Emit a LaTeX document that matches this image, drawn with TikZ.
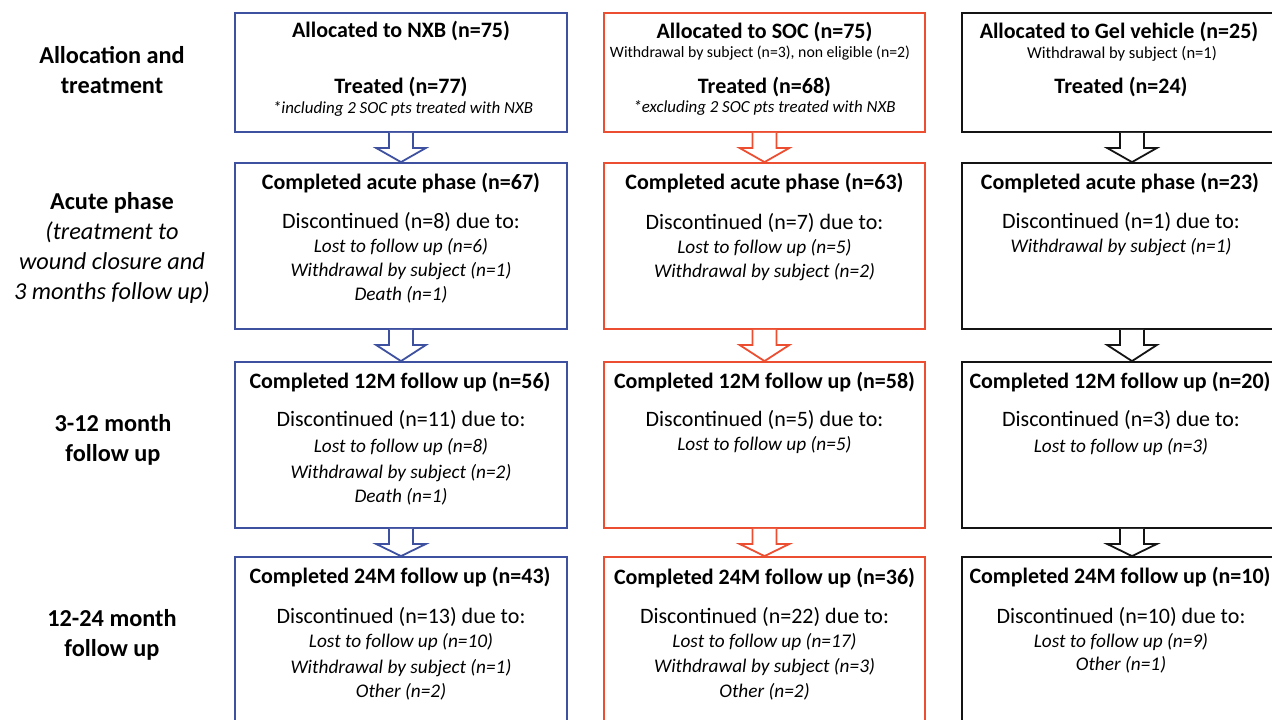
\documentclass[tikz,border=0pt]{standalone}
\usepackage{fontspec}
\setmainfont{Carlito}
\usetikzlibrary{calc}
\definecolor{nxbblue}{RGB}{62,80,160}
\definecolor{socred}{RGB}{236,78,50}
\definecolor{gelblack}{RGB}{20,20,20}
\tikzset{
  box/.style={draw=#1, line width=1.8pt, fill=white, inner sep=0pt},
  barrow/.style={draw=#1, line width=1.8pt, fill=white, line join=miter},
  ttl/.style={font=\fontsize{22}{26}\selectfont\bfseries, inner sep=0pt, text=black},
  txt/.style={font=\fontsize{22}{26}\selectfont, inner sep=0pt, text=black},
  itl/.style={font=\fontsize{19.3}{23}\selectfont\itshape, inner sep=0pt, text=black},
  sml/.style={font=\fontsize{15.8}{18}\selectfont, inner sep=0pt, text=black},
  smg/.style={font=\fontsize{16.6}{19}\selectfont, inner sep=0pt, text=black},
  smi/.style={font=\fontsize{16.9}{19}\selectfont\itshape, inner sep=0pt, text=black},
  lbl/.style={font=\fontsize{24.3}{30}\selectfont\bfseries, align=center, inner sep=0pt, text=black},
}
\newcommand\myblockarrow[3]{%
  \draw[barrow=#1] ($(#2.south)+(-12,0)$) -- ++(0,15) -- ++(-13,0) -- (#3.north)
    -- ($(#2.south)+(25,15)$) -- ++(-13,0) -- ($(#2.south)+(12,0)$);
}
\begin{document}
\begin{tikzpicture}[x=1pt,y=-1pt]
\useasboundingbox (0,0) rectangle (1272,720);
\clip (0,0) rectangle (1272,720);

% ---------- left labels ----------
\node[lbl] (L1) at (112,70) {Allocation and\\treatment};
\node[lbl] (L2) at (112,247.5) {Acute phase\\\mdseries\itshape (treatment to\\\mdseries\itshape wound closure and\\\mdseries\itshape 3 months follow up)};
\node[lbl] (L3) at (113,440) {3-12 month\\follow up};
\node[lbl] (L4) at (112,635) {12-24 month\\follow up};

% ---------- boxes ----------
\node[box=nxbblue, minimum width=332pt, minimum height=119pt] (n1) at (401,72.5) {};
\node[box=nxbblue, minimum width=332pt, minimum height=166pt] (n2) at (401,246) {};
\node[box=nxbblue, minimum width=332pt, minimum height=166pt] (n3) at (401,445) {};
\node[box=nxbblue, minimum width=332pt, minimum height=200pt] (n4) at (401,657) {};

\node[box=socred, minimum width=321pt, minimum height=119pt] (s1) at (764.5,72.5) {};
\node[box=socred, minimum width=321pt, minimum height=166pt] (s2) at (764.5,246) {};
\node[box=socred, minimum width=321pt, minimum height=166pt] (s3) at (764.5,445) {};
\node[box=socred, minimum width=321pt, minimum height=200pt] (s4) at (764.5,657) {};

\node[box=gelblack, minimum width=340pt, minimum height=119pt] (g1) at (1132,72.5) {};
\node[box=gelblack, minimum width=340pt, minimum height=166pt] (g2) at (1132,246) {};
\node[box=gelblack, minimum width=340pt, minimum height=166pt] (g3) at (1132,445) {};
\node[box=gelblack, minimum width=340pt, minimum height=200pt] (g4) at (1132,657) {};

% ---------- arrows ----------
\myblockarrow{nxbblue}{n1}{n2}
\myblockarrow{nxbblue}{n2}{n3}
\myblockarrow{nxbblue}{n3}{n4}
\myblockarrow{socred}{s1}{s2}
\myblockarrow{socred}{s2}{s3}
\myblockarrow{socred}{s3}{s4}
\myblockarrow{gelblack}{g1}{g2}
\myblockarrow{gelblack}{g2}{g3}
\myblockarrow{gelblack}{g3}{g4}

% ---------- NXB texts ----------
\node[ttl] (n1a) at (401,31) {Allocated to NXB (n=75)};
\node[ttl] (n1b) at (401,87) {Treated (n=77)};
\node[smi] (n1c) at (403,109) {*including 2 SOC pts treated with NXB};

\node[ttl] (n2a) at (401,183) {Completed acute phase (n=67)};
\node[txt] (n2b) at (401,222) {Discontinued (n=8) due to:};
\node[itl] (n2c) at (401,247) {Lost to follow up (n=6)};
\node[itl] (n2d) at (401,271) {Withdrawal by subject (n=1)};
\node[itl] (n2e) at (401,295) {Death (n=1)};

\node[ttl] (n3a) at (400,382) {Completed 12M follow up (n=56)};
\node[txt] (n3b) at (401,420) {Discontinued (n=11) due to:};
\node[itl] (n3c) at (401,447) {Lost to follow up (n=8)};
\node[itl] (n3d) at (401,473) {Withdrawal by subject (n=2)};
\node[itl] (n3e) at (401,497) {Death (n=1)};

\node[ttl] (n4a) at (400,577) {Completed 24M follow up (n=43)};
\node[txt] (n4b) at (401,617) {Discontinued (n=13) due to:};
\node[itl] (n4c) at (401,642) {Lost to follow up (n=10)};
\node[itl] (n4d) at (401,668) {Withdrawal by subject (n=1)};
\node[itl] (n4e) at (401,692) {Other (n=2)};

% ---------- SOC texts ----------
\node[ttl] (s1a) at (764.5,32) {Allocated to SOC (n=75)};
\node[sml] (s1b) at (760,53) {Withdrawal by subject (n=3), non eligible (n=2)};
\node[ttl] (s1c) at (764.5,87) {Treated (n=68)};
\node[smi] (s1d) at (764.5,108) {*excluding 2 SOC pts treated with NXB};

\node[ttl] (s2a) at (764.5,183) {Completed acute phase (n=63)};
\node[txt] (s2b) at (764.5,223) {Discontinued (n=7) due to:};
\node[itl] (s2c) at (764.5,248) {Lost to follow up (n=5)};
\node[itl] (s2d) at (764.5,272) {Withdrawal by subject (n=2)};

\node[ttl] (s3a) at (764.5,382) {Completed 12M follow up (n=58)};
\node[txt] (s3b) at (764.5,420) {Discontinued (n=5) due to:};
\node[itl] (s3c) at (764.5,445) {Lost to follow up (n=5)};

\node[ttl] (s4a) at (764.5,578) {Completed 24M follow up (n=36)};
\node[txt] (s4b) at (764.5,617) {Discontinued (n=22) due to:};
\node[itl] (s4c) at (764.5,642) {Lost to follow up (n=17)};
\node[itl] (s4d) at (764.5,667) {Withdrawal by subject (n=3)};
\node[itl] (s4e) at (764.5,692) {Other (n=2)};

% ---------- Gel texts ----------
\node[ttl] (g1a) at (1119,32) {Allocated to Gel vehicle (n=25)};
\node[smg] (g1b) at (1122,54) {Withdrawal by subject (n=1)};
\node[ttl] (g1c) at (1121,87) {Treated (n=24)};

\node[ttl] (g2a) at (1120,183) {Completed acute phase (n=23)};
\node[txt] (g2b) at (1121,222) {Discontinued (n=1) due to:};
\node[itl] (g2c) at (1121,247) {Withdrawal by subject (n=1)};

\node[ttl] (g3a) at (1120,382) {Completed 12M follow up (n=20)};
\node[txt] (g3b) at (1121,420) {Discontinued (n=3) due to:};
\node[itl] (g3c) at (1121,447) {Lost to follow up (n=3)};

\node[ttl] (g4a) at (1120,577) {Completed 24M follow up (n=10)};
\node[txt] (g4b) at (1121,617) {Discontinued (n=10) due to:};
\node[itl] (g4c) at (1121,642) {Lost to follow up (n=9)};
\node[itl] (g4d) at (1121,665) {Other (n=1)};
\end{tikzpicture}
\end{document}
